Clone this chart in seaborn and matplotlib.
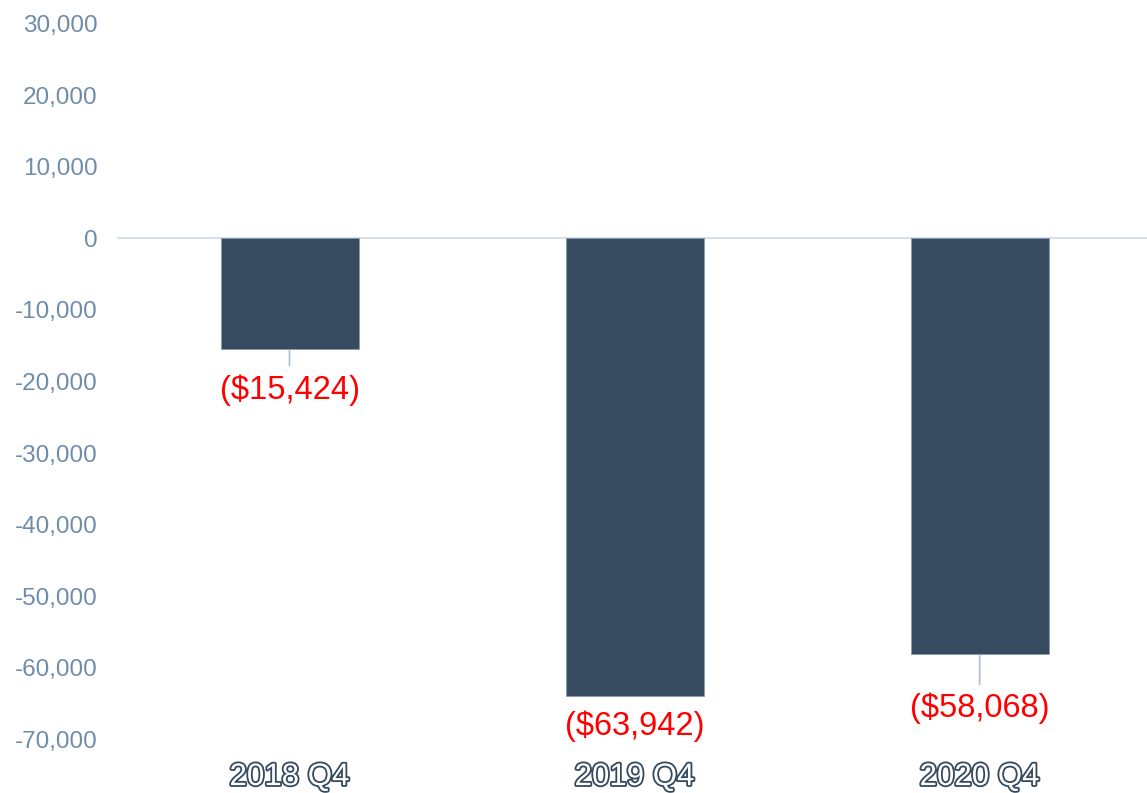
import matplotlib
matplotlib.use("Agg")
import matplotlib.pyplot as plt
import matplotlib.patheffects as pe
from matplotlib.ticker import FuncFormatter
import seaborn as sns
import pandas as pd

# data
quarters = ["2018 Q4", "2019 Q4", "2020 Q4"]
net_income = [-15424, -63942, -58068]
y_ticks = list(range(-70000, 30001, 10000))

# styling for the value labels (points below bar end): leader line length, label offset
leader_len = [12, 0, 22]
label_offset = [30, 22, 39]

bar_color = "#364b5f"
tick_color = "#6f8cab"
label_red = "#ff0000"
leader_color = "#aabdd3"

sns.set_theme(style="white")
plt.rcParams["font.family"] = ["Liberation Sans", "DejaVu Sans"]

df = pd.DataFrame({"quarter": quarters, "value": net_income})

fig = plt.figure(figsize=(11.47, 7.93), dpi=100)
ax = fig.add_axes([0.102, 0.0416, 0.898, 0.952])

sns.barplot(data=df, x="quarter", y="value", color=bar_color, width=0.4,
            saturation=1, ax=ax, edgecolor="#8a9bb0", linewidth=0.6)

ax.axhline(0, color="#d6dfea", lw=1.5, zorder=0)

ax.set_ylim(-72900, 32600)
ax.set_xlim(-0.5, 2.485)
ax.set_yticks(y_ticks)
ax.yaxis.set_major_formatter(FuncFormatter(lambda v, p: f"{int(v):,}"))
ax.tick_params(axis="y", length=0, pad=14, labelsize=17.5, labelcolor=tick_color)
ax.tick_params(axis="x", length=0, pad=1.5, labelsize=22.5)
for lbl in ax.get_xticklabels():
    lbl.set_color("white")
    lbl.set_path_effects([pe.Stroke(linewidth=2.6, foreground="#34495e"), pe.Normal()])

ax.set_xlabel("")
ax.set_ylabel("")
for s in ax.spines.values():
    s.set_visible(False)
ax.grid(False)

for i, v in enumerate(net_income):
    if leader_len[i] > 0:
        ax.annotate("", xy=(i, v), xycoords="data",
                    xytext=(0, -leader_len[i]), textcoords="offset points",
                    arrowprops=dict(arrowstyle="-", color=leader_color, lw=1.2,
                                    shrinkA=0, shrinkB=1))
    ax.annotate(f"(${abs(v):,})", xy=(i, v), xycoords="data",
                xytext=(0, -label_offset[i]), textcoords="offset points",
                ha="center", va="center", fontsize=23.5, color=label_red)

fig.savefig("out.png", dpi=100)
